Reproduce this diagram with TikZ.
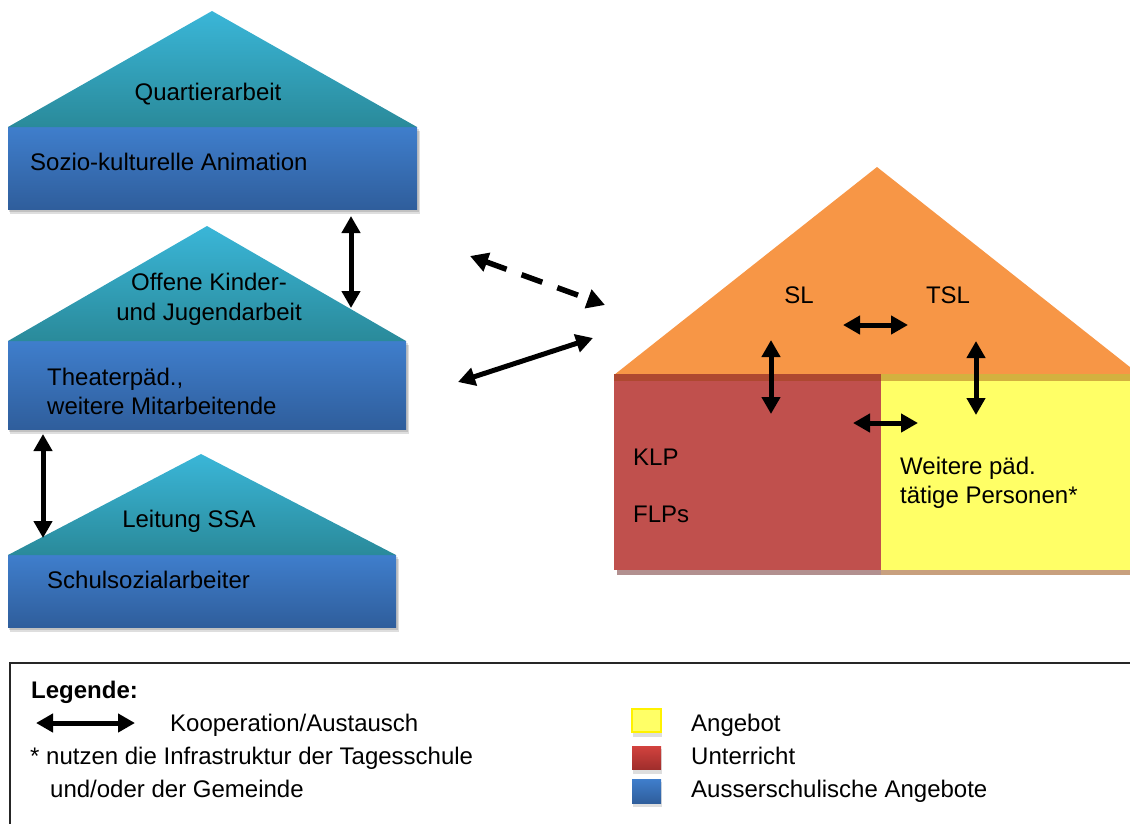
\documentclass[tikz,border=0pt]{standalone}
\usepackage{fontspec}
\setmainfont{Liberation Sans}
\usetikzlibrary{arrows.meta}
\definecolor{tealtop}{RGB}{58,182,216}
\definecolor{tealbot}{RGB}{42,138,154}
\definecolor{bluetop}{RGB}{63,126,204}
\definecolor{bluebot}{RGB}{47,94,156}
\definecolor{rooforange}{RGB}{247,150,70}
\definecolor{lessonred}{RGB}{192,80,77}
\definecolor{offeryellow}{RGB}{255,255,102}
\definecolor{bandbrown}{RGB}{147,62,6}
\definecolor{shadowred}{RGB}{178,144,143}
\definecolor{shadowyel}{RGB}{200,160,126}
\definecolor{legredtop}{RGB}{210,66,62}
\definecolor{legredbot}{RGB}{160,46,44}
\begin{document}
\begin{tikzpicture}[x=1pt,y=-1pt,
  lbl/.style={inner sep=0pt, font=\fontsize{24}{29}\selectfont},
  lblw/.style={lbl, anchor=base west},
  lblc/.style={lbl, anchor=base},
  roof/.style={top color=tealtop, bottom color=tealbot},
  floorbox/.style={top color=bluetop, bottom color=bluebot},
  boxshadow/.style={black, opacity=.13},
  coop/.style={line width=5pt,
    {Triangle[width=18pt,length=17pt]}-{Triangle[width=18pt,length=17pt]}},
  coopdash/.style={line width=5.5pt, dash pattern=on 22pt off 16pt,
    {Triangle[width=19pt,length=18pt]}-{Triangle[width=19pt,length=18pt]}},
  legsq/.style={line width=1.2pt}
]
\useasboundingbox (0,0) rectangle (1130,823);
\clip (0,0) rectangle (1130,823);

% ---- house 1: Quartierarbeit ----
\fill[boxshadow] (10,131) rectangle (420,214);
\fill[boxshadow] (9,129) rectangle (418.5,211.5);
\shade[floorbox] (8,127) rectangle (417,209);
\shade[roof] (8,127) -- (212,11) -- (417,127) -- cycle;
\node[lblc] (qa) at (208,100) {Quartierarbeit};
\node[lblw] (ska) at (30,170) {Sozio-kulturelle Animation};

% ---- house 2: Offene Kinder- und Jugendarbeit ----
\fill[boxshadow] (10,345) rectangle (409,434);
\fill[boxshadow] (9,343) rectangle (407.5,431.5);
\shade[floorbox] (8,341) rectangle (406,429);
\shade[roof] (8,341) -- (207,226) -- (406,341) -- cycle;
\node[lblc] (okja1) at (209,290) {Offene Kinder-};
\node[lblc] (okja2) at (209,320) {und Jugendarbeit};
\node[lblw] (tp1) at (47,385) {Theaterpäd.,};
\node[lblw] (tp2) at (47,414) {weitere Mitarbeitende};

% ---- house 3: Leitung SSA ----
\fill[boxshadow] (10,559) rectangle (399,632);
\fill[boxshadow] (9,557) rectangle (397.5,629.5);
\shade[floorbox] (8,555) rectangle (396,627);
\shade[roof] (8,555) -- (201,454) -- (396,555) -- cycle;
\node[lblc] (ssa) at (189,527) {Leitung SSA};
\node[lblw] (ssa2) at (47,588) {Schulsozialarbeiter};

% ---- school house ----
\fill[shadowred] (617,570) rectangle (881,575);
\fill[shadowyel] (881,570) rectangle (1135,575);
\fill[rooforange] (614,375) -- (877,167) -- (1140,375) -- cycle;
\fill[lessonred] (614,374) rectangle (881,570);
\fill[offeryellow] (881,374) rectangle (1135,570);
\fill[bandbrown, opacity=.4] (614,374) rectangle (1135,381);
\node[lblc] (sl) at (799,303) {SL};
\node[lblc] (tsl) at (948,303) {TSL};
\node[lblw] (klp) at (633,465) {KLP};
\node[lblw] (flp) at (633,522) {FLPs};
\node[lblw] (wp1) at (900,474) {Weitere päd.};
\node[lblw] (wp2) at (900,503) {tätige Personen*};

% ---- connector end points ----
\coordinate (qa-down) at (351,216);
\coordinate (okja-up) at (351,308);
\coordinate (tp-down) at (43,434);
\coordinate (ssa-up) at (43,538);
\coordinate (ext-a) at (470,256);
\coordinate (ext-b) at (605,305);
\coordinate (ext-c) at (458,382);
\coordinate (ext-d) at (593,338);
\coordinate (sl-r) at (843,325);
\coordinate (tsl-l) at (908,325);
\coordinate (sl-up) at (771,340);
\coordinate (klp-dn) at (771,414);
\coordinate (tsl-up) at (976,341);
\coordinate (wp-dn) at (976,415);
\coordinate (klp-r) at (853,423);
\coordinate (wp-l) at (918,423);

\draw[coop] (qa-down) -- (okja-up);
\draw[coop] (tp-down) -- (ssa-up);
\draw[coopdash] (ext-a) -- (ext-b);
\draw[coop] (ext-c) -- (ext-d);
\draw[coop] (sl-r) -- (tsl-l);
\draw[coop] (sl-up) -- (klp-dn);
\draw[coop] (tsl-up) -- (wp-dn);
\draw[coop] (klp-r) -- (wp-l);

% ---- legend ----
\draw[line width=2pt, black!85] (10,840) |- (1145,663);
\node[lbl, anchor=base west, font=\fontsize{24}{29}\selectfont\bfseries] (leg) at (31,698) {Legende:};
\coordinate (leg-a) at (36,723);
\coordinate (leg-b) at (135,723);
\draw[coop] (leg-a) -- (leg-b);
\node[lblw] (legcoop) at (170,731) {Kooperation/Austausch};
\node[lblw] (legstar1) at (30,764) {* nutzen die Infrastruktur der Tagesschule};
\node[lblw] (legstar2) at (50,797) {und/oder der Gemeinde};

\fill[boxshadow] (633,712) rectangle (662,737);
\fill[offeryellow, draw=yellow, legsq] (632,709) rectangle (661,732);
\fill[boxshadow] (633,749) rectangle (662,774);
\shade[top color=legredtop, bottom color=legredbot] (632,746) rectangle (661,769);
\fill[boxshadow] (633,782) rectangle (662,807);
\shade[floorbox] (632,779) rectangle (661,803);
\node[lblw] (legoff) at (691,731) {Angebot};
\node[lblw] (legles) at (691,764) {Unterricht};
\node[lblw] (legext) at (691,797) {Ausserschulische Angebote};
\end{tikzpicture}
\end{document}
